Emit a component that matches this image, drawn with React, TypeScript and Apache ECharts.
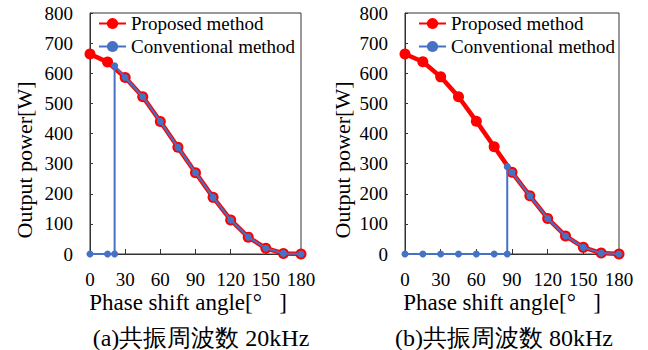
import React, { useEffect, useRef } from "react";
import * as echarts from "echarts";

const phaseAngles = [0, 15, 30, 45, 60, 75, 90, 105, 120, 135, 150, 165, 180];
const proposed20k = [664, 637, 586, 522, 440, 354, 270, 188, 113, 56, 19, 2, 0];
const conv20kX = [0, 15, 21, 21, 30, 45, 60, 75, 90, 105, 120, 135, 150, 165, 180];
const conv20kY = [0, 0, 0, 625, 586, 522, 440, 354, 270, 188, 113, 56, 19, 2, 0];
const proposed80k = [664, 638, 588, 522, 441, 356, 271, 193, 118, 60, 22, 3, 0];
const conv80kX = [0, 15, 30, 45, 60, 75, 86, 86, 90, 105, 120, 135, 150, 165, 180];
const conv80kY = [0, 0, 0, 0, 0, 0, 0, 290, 271, 193, 118, 60, 22, 3, 0];
const xTicks = { min: 0, max: 180, interval: 30 };
const yTicks = { min: 0, max: 800, interval: 100 };
const seriesNames = ["Proposed method", "Conventional method"];
const xTitle = "Phase shift angle[°\u00a0\u00a0\u00a0]";
const yTitle = "Output power[W]";
const captions = ["(a)共振周波数 20kHz", "(b)共振周波数 80kHz"];

const FONT = "Liberation Serif";
const RED = "#FF0000";
const BLUE = "#4472C4";
const AXIS = "#333333";

export default function App() {
  const ref = useRef<HTMLDivElement>(null);
  useEffect(() => {
    if (!ref.current) return;
    const chart = echarts.init(ref.current, null, { renderer: "svg" });
    const zip = (xs: number[], ys: number[]) => xs.map((x, i) => [x, ys[i]]);
    const mkX = (gi: number) => ({
      type: "value",
      gridIndex: gi,
      ...xTicks,
      axisLine: { show: true, onZero: false, lineStyle: { color: AXIS, width: 1 } },
      axisTick: { show: true, inside: true, length: 5, lineStyle: { color: AXIS } },
      axisLabel: { fontFamily: FONT, fontSize: 19, color: "#000", margin: 16 },
      splitLine: { show: false },
    });
    const mkY = (gi: number) => ({
      type: "value",
      gridIndex: gi,
      ...yTicks,
      axisLine: { show: true, lineStyle: { color: AXIS, width: 1 } },
      axisTick: { show: true, inside: true, length: 3, lineStyle: { color: AXIS } },
      axisLabel: { fontFamily: FONT, fontSize: 19, color: "#000", margin: 17 },
      splitLine: { show: false },
    });
    const propSeries = (gi: number, ys: number[]) => ({
      name: seriesNames[0],
      type: "line",
      xAxisIndex: gi,
      yAxisIndex: gi,
      data: zip(phaseAngles, ys),
      symbol: "circle",
      symbolSize: 11,
      clip: false,
      lineStyle: { color: RED, width: 4.5 },
      itemStyle: { color: RED },
      z: 2,
    });
    const convSeries = (gi: number, xs: number[], ys: number[]) => ({
      name: seriesNames[1],
      type: "line",
      xAxisIndex: gi,
      yAxisIndex: gi,
      data: zip(xs, ys),
      symbol: "circle",
      symbolSize: 7,
      clip: false,
      lineStyle: { color: BLUE, width: 2 },
      itemStyle: { color: BLUE },
      z: 3,
    });
    const mkLegend = (left: number) => ({
      orient: "vertical",
      left,
      top: 14,
      padding: 0,
      itemWidth: 27,
      itemHeight: 14,
      itemGap: 4,
      data: seriesNames,
      textStyle: { fontFamily: FONT, fontSize: 19, color: "#000", lineHeight: 18 },
    });
    const txt = (x: number, y: number, text: string, size: number, rot = 0) => ({
      type: "text",
      x,
      y,
      rotation: rot,
      style: {
        text,
        fontFamily: FONT,
        fontSize: size,
        fill: "#000",
        textAlign: "center",
        textVerticalAlign: "middle",
      },
    });
    chart.setOption({
      animation: false,
      backgroundColor: "#fff",
      grid: [
        { left: 90, top: 13, width: 211, height: 241, show: true, borderColor: AXIS, borderWidth: 1 },
        { left: 405, top: 13, width: 214, height: 241, show: true, borderColor: AXIS, borderWidth: 1 },
      ],
      xAxis: [mkX(0), mkX(1)],
      yAxis: [mkY(0), mkY(1)],
      legend: [mkLegend(98), mkLegend(418)],
      series: [
        propSeries(0, proposed20k),
        convSeries(0, conv20kX, conv20kY),
        propSeries(1, proposed80k),
        convSeries(1, conv80kX, conv80kY),
      ],
      graphic: [
        txt(188, 302, xTitle, 23),
        txt(502, 302, xTitle, 23),
        txt(24, 160, yTitle, 22, Math.PI / 2),
        txt(342, 160, yTitle, 22, Math.PI / 2),
        txt(201, 338, captions[0], 24),
        txt(504, 338, captions[1], 24),
      ],
    });
    return () => chart.dispose();
  }, []);
  return <div ref={ref} style={{ width: 648, height: 350, position: "absolute", left: 0, top: 0 }} />;
}
